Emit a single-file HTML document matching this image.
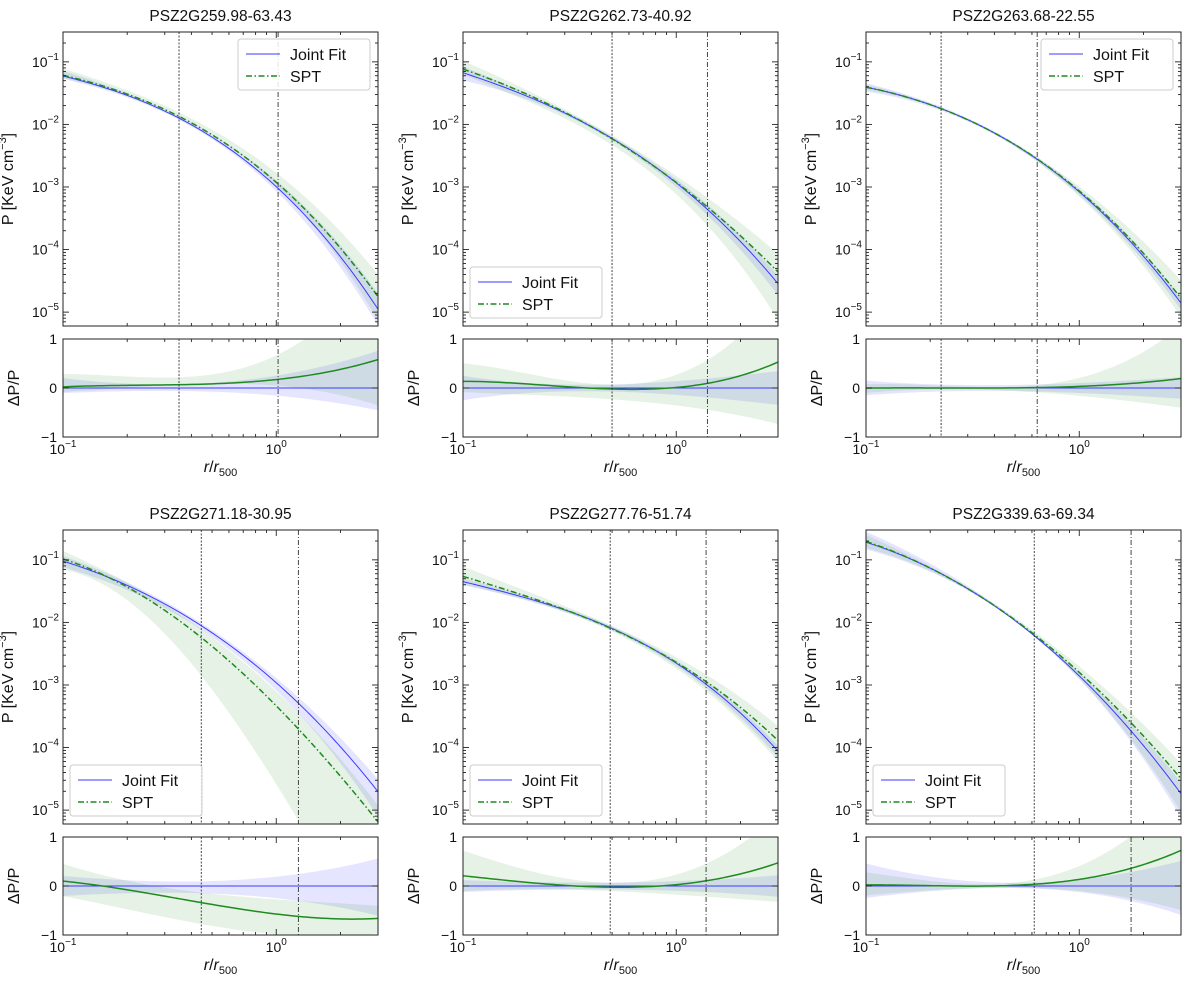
<!DOCTYPE html>
<html><head><meta charset="utf-8"><style>
html,body{margin:0;padding:0;background:#fff;overflow:hidden;width:1200px;height:984px;}
svg{display:block;}
svg text{font-family:"Liberation Sans","DejaVu Sans",sans-serif;fill:#111;}
</style></head><body>
<svg id="fig" width="1200" height="984" viewBox="0 0 1200 984" xmlns="http://www.w3.org/2000/svg"></svg>
<script>
const radii = [0.1,0.15,0.2,0.3,0.5,0.7,1,1.5,2,3];
const titles = ["PSZ2G259.98-63.43","PSZ2G262.73-40.92","PSZ2G263.68-22.55","PSZ2G271.18-30.95","PSZ2G277.76-51.74","PSZ2G339.63-69.34"];
const joint1=[0.06,0.04,0.029,0.016,0.0065,0.003,0.0009,0.00025,0.00008,0.000011];
const spt1=[0.062,0.0415,0.0303,0.0169,0.0071,0.0034,0.00107,0.000315,0.000108,0.0000176];
const joint2=[0.065,0.042,0.029,0.016,0.0058,0.0026,0.0011,0.0004,0.00014,0.000027];
const spt2=[0.075,0.046,0.031,0.0163,0.0058,0.0026,0.00112,0.00044,0.00017,0.000042];
const joint3=[0.04,0.028,0.02,0.012,0.0048,0.0023,0.0008,0.00022,0.00008,0.000014];
const spt3=[0.04,0.028,0.02,0.012,0.0048,0.00232,0.00084,0.000235,0.000088,0.0000168];
const joint4=[0.095,0.058,0.04,0.02,0.0068,0.003,0.001,0.0003,0.00011,0.000019];
const spt4=[0.1045,0.058,0.037,0.016,0.0043,0.0015,0.00042,0.00011,0.000037,0.0000063];
const joint5=[0.045,0.032,0.024,0.0155,0.0082,0.0047,0.0022,0.0008,0.00036,0.000088];
const spt5=[0.055,0.036,0.025,0.0157,0.0082,0.0047,0.00226,0.00091,0.00043,0.000132];
const joint6=[0.2,0.11,0.07,0.035,0.011,0.0045,0.0015,0.00028,0.00011,0.000019];
const spt6=[0.206,0.111,0.07,0.035,0.0112,0.0048,0.0017,0.00036,0.000156,0.000033];
const jLo=[[-0.1,-0.08,-0.07,-0.06,-0.07,-0.1,-0.15,-0.25,-0.32,-0.45],[-0.25,-0.15,-0.1,-0.07,-0.07,-0.1,-0.15,-0.2,-0.25,-0.35],[-0.15,-0.1,-0.08,-0.06,-0.06,-0.08,-0.1,-0.14,-0.17,-0.22],[-0.2,-0.17,-0.15,-0.14,-0.15,-0.18,-0.25,-0.35,-0.45,-0.6],[-0.12,-0.1,-0.08,-0.07,-0.07,-0.08,-0.1,-0.13,-0.16,-0.22],[-0.25,-0.15,-0.1,-0.06,-0.05,-0.07,-0.12,-0.25,-0.35,-0.6]];
const jHi=[[0.2,0.12,0.1,0.08,0.1,0.15,0.25,0.4,0.55,0.75],[0.25,0.15,0.1,0.07,0.07,0.1,0.15,0.2,0.25,0.35],[0.15,0.1,0.08,0.06,0.06,0.08,0.1,0.14,0.17,0.22],[0.2,0.15,0.12,0.1,0.1,0.12,0.18,0.3,0.4,0.55],[0.12,0.1,0.08,0.07,0.07,0.08,0.1,0.13,0.16,0.22],[0.45,0.3,0.2,0.1,0.06,0.07,0.12,0.25,0.35,0.5]];
const sLo=[[-0.08,-0.03,0,0.05,0.08,0.1,0.05,-0.05,-0.15,-0.35],[-0.1,-0.1,-0.12,-0.18,-0.25,-0.3,-0.35,-0.45,-0.55,-0.75],[-0.1,-0.05,-0.03,-0.03,-0.06,-0.1,-0.15,-0.25,-0.3,-0.4],[-0.25,-0.3,-0.45,-0.65,-0.85,-0.95,-0.98,-0.99,-0.995,-0.998],[-0.1,-0.08,-0.07,-0.07,-0.1,-0.13,-0.18,-0.23,-0.27,-0.32],[-0.2,-0.12,-0.08,-0.05,-0.05,-0.05,-0.1,-0.2,-0.3,-0.5]];
const sHi=[[0.3,0.25,0.22,0.2,0.3,0.45,0.65,1.1,1.6,2.5],[0.55,0.35,0.25,0.15,0.12,0.15,0.3,0.6,1.0,2.0],[0.1,0.05,0.03,0.03,0.06,0.1,0.2,0.45,0.7,1.3],[0.45,0.25,0.1,-0.05,-0.15,-0.2,-0.28,-0.33,-0.36,-0.4],[0.75,0.45,0.3,0.15,0.1,0.12,0.25,0.5,0.8,1.5],[0.3,0.15,0.08,0.05,0.1,0.2,0.4,0.8,1.2,2.0]];
const vDotted=[0.35,0.5,0.225,0.445,0.49,0.615];
const vDashDot=[1.02,1.4,0.635,1.27,1.38,1.75];
const legendTop=[true,false,true,false,false,false];
const yTickExp=[-1,-2,-3,-4,-5];
const resTicks=[-1,0,1];
const joints=[joint1,joint2,joint3,joint4,joint5,joint6];
const spts=[spt1,spt2,spt3,spt4,spt5,spt6];

const NS="http://www.w3.org/2000/svg";
const svg=document.getElementById('fig');
function mk(tag,attrs,parent){const e=document.createElementNS(NS,tag);for(const k in attrs)e.setAttribute(k,attrs[k]);(parent||svg).appendChild(e);return e;}
const colX=[63,463,866], W=315, rowY=[32,530], H=294, RH=98;
const XMIN=Math.log10(0.1), XMAX=Math.log10(3), YMIN=Math.log10(6e-6), YMAX=Math.log10(0.3);
// least-squares cubic fit y(x)
function fit(xs,ys){const n=4;const A=[...Array(n)].map(()=>Array(n+1).fill(0));
  xs.forEach((x,i)=>{for(let a=0;a<n;a++){for(let b=0;b<n;b++)A[a][b]+=Math.pow(x,a+b);A[a][n]+=ys[i]*Math.pow(x,a);}});
  for(let c=0;c<n;c++){let pv=c;for(let r=c+1;r<n;r++)if(Math.abs(A[r][c])>Math.abs(A[pv][c]))pv=r;[A[c],A[pv]]=[A[pv],A[c]];
    for(let r=0;r<n;r++)if(r!=c){const f=A[r][c]/A[c][c];for(let k=c;k<=n;k++)A[r][k]-=f*A[c][k];}}
  const co=A.map((row,i)=>row[n]/row[i]);return x=>co.reduce((s,c,i)=>s+c*Math.pow(x,i),0);}
const LX=radii.map(r=>Math.log10(r));
const SAMP=[];for(let i=0;i<=80;i++)SAMP.push(XMIN+(XMAX-XMIN)*i/80);
function logCurve(vals){const f=fit(LX,vals.map(v=>Math.log10(Math.max(v,1e-9))));return SAMP.map(x=>[x,f(x)]);}
function linCurve(vals){const f=fit(LX,vals);return SAMP.map(x=>[x,f(x)]);}
function pathOf(pts){return pts.map((p,i)=>(i?'L':'M')+p[0].toFixed(2)+','+p[1].toFixed(2)).join(' ');}
function bandOf(up,lo){return pathOf(up)+' L'+pathOf(lo.slice().reverse()).slice(1)+' Z';}

for(let p=0;p<6;p++){
  const x0=colX[p%3], y0=rowY[Math.floor(p/3)], ry0=y0+H+13;
  const g=mk('g',{});
  
  
  const sxl=lx=>x0+(lx-XMIN)/(XMAX-XMIN)*W;
  const sx=r=>sxl(Math.log10(r));
  const syl=ly=>y0+H-(ly-YMIN)/(YMAX-YMIN)*H;
  const sy=v=>syl(Math.log10(v));
  const rsy=v=>ry0+RH/2-v*RH/2;
  const J=joints[p], S=spts[p];
  const toMain=c=>c.map(q=>[sxl(q[0]),syl(q[1])]);
  const toRes=c=>c.map(q=>[sxl(q[0]),rsy(q[1])]);
  const cid='c'+p, rcid='rc'+p;
  const defs=mk('defs',{},g);
  const cp=mk('clipPath',{id:cid},defs);mk('rect',{x:x0,y:y0,width:W,height:H},cp);
  const rcp=mk('clipPath',{id:rcid},defs);mk('rect',{x:x0,y:ry0,width:W,height:RH},rcp);
  const t=mk('text',{x:x0+W/2,y:y0-11,'text-anchor':'middle','font-size':15.5},g);t.textContent=titles[p];
  
  const mg=mk('g',{'clip-path':'url(#'+cid+')'},g);
  const jb=mk('path',{d:bandOf(toMain(logCurve(J.map((v,i)=>v*(1+jHi[p][i])))),toMain(logCurve(J.map((v,i)=>v*(1+jLo[p][i]))))),fill:'rgba(40,40,255,0.12)'},mg);
  
  const sb=mk('path',{d:bandOf(toMain(logCurve(J.map((v,i)=>v*(1+sHi[p][i])))),toMain(logCurve(J.map((v,i)=>v*(1+sLo[p][i]))))),fill:'rgba(40,150,40,0.12)'},mg);
  
  const jl=mk('path',{d:pathOf(toMain(logCurve(J))),fill:'none',stroke:'#3b3bff','stroke-width':1},mg);
  
  const sl=mk('path',{d:pathOf(toMain(logCurve(S))),fill:'none',stroke:'#1f8a1f','stroke-width':1.5,'stroke-dasharray':'6,2.5,1.5,2.5'},mg);
  
  const rg=mk('g',{'clip-path':'url(#'+rcid+')'},g);
  const rjb=mk('path',{d:bandOf(toRes(linCurve(jHi[p])),toRes(linCurve(jLo[p]))),fill:'rgba(40,40,255,0.12)'},rg);
  
  const rsb=mk('path',{d:bandOf(toRes(linCurve(sHi[p])),toRes(linCurve(sLo[p]))),fill:'rgba(40,150,40,0.12)'},rg);
  
  const z=mk('line',{x1:x0,x2:x0+W,y1:rsy(0),y2:rsy(0),stroke:'#3b3bff','stroke-width':1},rg);
  
  const rl=mk('path',{d:pathOf(toRes(linCurve(S.map((v,i)=>v/J[i]-1)))),fill:'none',stroke:'#1f8a1f','stroke-width':1.5},rg);
  
  [[vDotted[p],'2,1.5'],[vDashDot[p],'5,2,1,2']].forEach(([v,da],k)=>{
    [[y0,y0+H],[ry0,ry0+RH]].forEach(([a,b])=>{
      const l=mk('line',{x1:sx(v),x2:sx(v),y1:a,y2:b,stroke:'#333','stroke-width':0.9,'stroke-dasharray':da},g);
      
    });
  });
  const tk=(x1,y1,x2,y2)=>mk('line',{x1,y1,x2,y2,stroke:'#222','stroke-width':0.9},g);
  for(let d=-1;d<=0;d++)for(let m=1;m<=9;m++){const r=m*Math.pow(10,d);if(r<0.1||r>3)continue;const x=sx(r),L=m==1?6:3;
    tk(x,y0,x,y0+L);tk(x,y0+H,x,y0+H-L);tk(x,ry0,x,ry0+L);tk(x,ry0+RH,x,ry0+RH-L);}
  for(let e=-6;e<=-1;e++)for(let m=1;m<=9;m++){const v=m*Math.pow(10,e);if(v<6e-6||v>0.3)continue;const y=sy(v),L=m==1?6:3;
    tk(x0,y,x0+L,y);tk(x0+W,y,x0+W-L,y);}
  yTickExp.forEach(e=>{const tt=mk('text',{x:x0-4,y:sy(Math.pow(10,e))+5,'text-anchor':'end','font-size':14},g);
    tt.innerHTML='10<tspan dy="-7" font-size="10">\u2212'+(-e)+'</tspan>';});
  resTicks.forEach(v=>{const y=rsy(v);tk(x0,y,x0+6,y);tk(x0+W,y,x0+W-6,y);
    const tt=mk('text',{x:x0-6,y:y+5,'text-anchor':'end','font-size':14},g);tt.textContent=v<0?'\u22121':String(v);
    });
  [[0.1,'\u22121'],[1,'0']].forEach(([r,e])=>{const tt=mk('text',{x:sx(r),y:ry0+RH+17,'text-anchor':'middle','font-size':14},g);
    tt.innerHTML='10<tspan dy="-7" font-size="10">'+e+'</tspan>';});
  const f1=mk('rect',{x:x0,y:y0,width:W,height:H,fill:'none',stroke:'#222','stroke-width':1},g);
  
  const f2=mk('rect',{x:x0,y:ry0,width:W,height:RH,fill:'none',stroke:'#222','stroke-width':1},g);
  
  const yl=mk('text',{transform:'translate('+(x0-50)+','+(y0+H/2)+') rotate(-90)','text-anchor':'middle','font-size':16},g);
  yl.innerHTML='P [KeV cm<tspan dy="-7" font-size="11">\u22123</tspan><tspan dy="7">]</tspan>';
  
  const rl2=mk('text',{transform:'translate('+(x0-44)+','+(ry0+RH/2)+') rotate(-90)','text-anchor':'middle','font-size':16},g);
  rl2.textContent='\u0394P/P';
  const xl=mk('text',{x:x0+W/2,y:ry0+RH+35,'text-anchor':'middle','font-size':16},g);
  xl.innerHTML='<tspan font-style="italic">r</tspan>/<tspan font-style="italic">r</tspan><tspan dy="4" font-size="11">500</tspan>';
  
  const lx=legendTop[p]?x0+W-140:x0+7, ly=legendTop[p]?y0+7:y0+H-59;
  const lg=mk('g',{},g);
  mk('rect',{x:lx,y:ly,width:132,height:51,rx:3,fill:'rgba(255,255,255,0.85)',stroke:'#ccc','stroke-width':1},lg);
  mk('line',{x1:lx+8,x2:lx+42,y1:ly+15,y2:ly+15,stroke:'#3b3bff','stroke-width':1},lg);
  mk('line',{x1:lx+8,x2:lx+42,y1:ly+37,y2:ly+37,stroke:'#1f8a1f','stroke-width':1.5,'stroke-dasharray':'6,2.5,1.5,2.5'},lg);
  const e1=mk('text',{x:lx+52,y:ly+21,'font-size':16},lg);e1.textContent='Joint Fit';
  const e2=mk('text',{x:lx+52,y:ly+43,'font-size':16},lg);e2.textContent='SPT';
}
</script>
</body></html>
